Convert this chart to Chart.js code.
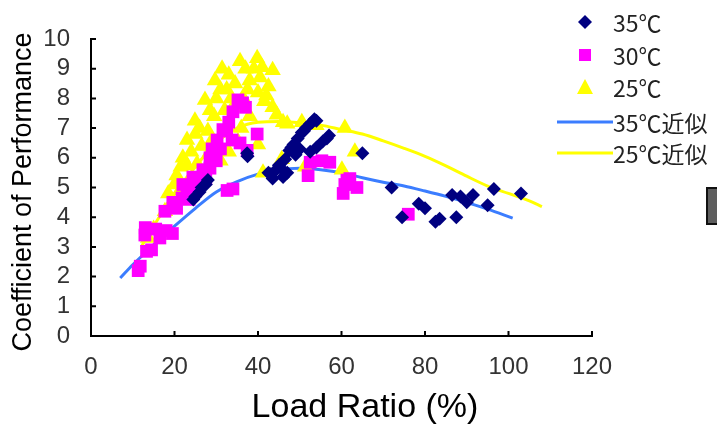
<!DOCTYPE html>
<html>
<head>
<meta charset="utf-8">
<script src="https://cdn.jsdelivr.net/npm/chart.js@4"></script>
<style>
  html, body { margin: 0; padding: 0; background: #fff; }
</style>
</head>
<body>
<canvas id="myChart" width="717" height="432"></canvas>
<script>
const t35X = [24.5, 25, 26, 26.5, 27.5, 28, 37.5, 37.4, 42.5, 43, 43.5, 44, 45, 45.5, 46, 46.5, 47, 47.5, 48, 48.5, 49.5, 50.5, 51, 51.5, 52.5, 53, 53.5, 54, 52.5, 54, 55.5, 56.5, 57, 49, 50, 65, 72, 74.5, 78.5, 80, 82.5, 83.5, 86.5, 87.5, 88.5, 90, 91.5, 95, 96.5, 103];
const t35Y = [4.6, 4.7, 4.85, 5.0, 5.1, 5.25, 6.05, 6.15, 5.5, 5.45, 5.3, 5.55, 5.75, 5.65, 5.35, 5.95, 5.5, 6.25, 6.35, 6.45, 6.65, 6.85, 6.9, 7.0, 7.15, 7.2, 7.3, 7.25, 6.2, 6.35, 6.55, 6.65, 6.75, 6.1, 6.3, 6.15, 5.0, 4.0, 4.45, 4.3, 3.85, 3.95, 4.75, 4.0, 4.7, 4.5, 4.75, 4.4, 4.95, 4.8];

const t30X = [11.3, 11.8, 13.3, 14.5, 12.9, 13, 15.5, 18, 19.5, 16.5, 17.7, 19.6, 20.5, 21.8, 23, 23.5, 24.9, 24.4, 26.8, 27.5, 28.5, 28.5, 29, 30.2, 31, 31.6, 32.5, 33, 34, 35.2, 36.3, 37, 33.8, 32.6, 34, 35.7, 37.4, 39.8, 22, 26, 30, 52, 52.5, 55.3, 57.2, 60.4, 60.8, 61.3, 62, 63.7, 76];
const t30Y = [2.2, 2.35, 2.85, 2.9, 3.4, 3.65, 3.6, 3.55, 3.45, 3.3, 4.2, 4.5, 4.3, 4.65, 4.85, 4.6, 5.0, 5.35, 5.6, 5.3, 5.65, 6.0, 6.3, 6.6, 6.3, 6.95, 6.9, 7.2, 7.55, 7.95, 7.85, 7.7, 6.6, 4.9, 4.95, 6.5, 6.25, 6.8, 5.1, 5.3, 5.9, 5.4, 5.85, 5.9, 5.85, 4.8, 5.1, 5.25, 5.3, 5.0, 4.1];

const t25X = [13.7, 15, 17.7, 18.5, 19.6, 20, 21.3, 20.5, 21.5, 23, 24, 25, 25.4, 22, 23, 24.9, 26, 27.3, 28.5, 29.7, 31.4, 26.5, 28, 29, 29.5, 30, 31, 32, 32.5, 33, 33.5, 34.5, 35.7, 37, 37.5, 39, 39.8, 40.5, 41, 42, 43.5, 38, 40, 42.5, 41.5, 43.5, 44.5, 46, 47, 50.5, 54, 60.8, 35.2, 40, 41.2, 45.7, 51.3, 60.1, 63.2, 36, 38, 31, 33, 27, 28.5, 34, 36.5];
const t25Y = [3.3, 3.6, 4.2, 4.8, 4.55, 5.1, 4.9, 5.4, 5.7, 5.75, 6.2, 6.8, 5.8, 6.0, 6.6, 7.25, 7.0, 7.95, 7.6, 8.6, 9.0, 6.4, 6.9, 6.6, 7.4, 8.0, 8.3, 7.6, 8.3, 8.8, 8.0, 8.5, 9.25, 9.0, 8.3, 9.0, 9.35, 8.7, 9.05, 8.1, 8.95, 8.6, 8.2, 8.4, 7.9, 7.7, 7.45, 7.2, 7.15, 7.2, 7.1, 7.0, 6.55, 6.45, 5.5, 5.95, 5.7, 5.6, 6.2, 7.0, 7.4, 5.9, 6.2, 5.3, 6.2, 7.7, 8.0];

// fitted curves as drawn in the picture
const fit35X = [7, 10, 13, 16, 20, 25, 30, 35, 40, 45, 50, 55, 60, 65, 70, 75, 80, 85, 90, 95, 101];
const fit35Y = [1.95, 2.4, 2.8, 3.2, 3.7, 4.3, 4.85, 5.2, 5.45, 5.6, 5.65, 5.6, 5.5, 5.33, 5.18, 5.05, 4.88, 4.7, 4.5, 4.27, 3.97];
const fit25X = [12, 15, 20, 25, 30, 35, 40, 45, 50, 55, 60, 65, 70, 75, 80, 85, 90, 95, 100, 105, 108];
const fit25Y = [3.0, 3.7, 4.8, 5.7, 6.5, 7.0, 7.2, 7.22, 7.18, 7.1, 6.95, 6.8, 6.57, 6.32, 6.05, 5.73, 5.38, 5.05, 4.8, 4.55, 4.36];

const seriesNames = ['35℃', '30℃', '25℃', '35℃近似', '25℃近似'];
const xTicks = [0, 20, 40, 60, 80, 100, 120];
const yTicks = [0, 1, 2, 3, 4, 5, 6, 7, 8, 9, 10];

const NAVY = '#000080';
const PINK = '#ff00ff';
const YELLOW = '#ffff00';
const BLUE = '#3b7dff';

function pts(xs, ys) {
  return xs.map((x, i) => ({ x: x, y: ys[i] }));
}

// inward ticks, axis titles, legend and the stray box at the right edge
const extras = {
  id: 'extras',
  afterDraw(chart) {
    const ctx = chart.ctx;
    const xs = chart.scales.x, ys = chart.scales.y;
    const a = chart.chartArea;
    ctx.save();
    ctx.strokeStyle = '#000';
    ctx.lineWidth = 2;
    ctx.beginPath();
    xTicks.forEach(v => {
      const px = xs.getPixelForValue(v);
      ctx.moveTo(px, a.bottom);
      ctx.lineTo(px, a.bottom - 5);
    });
    yTicks.forEach(v => {
      const py = ys.getPixelForValue(v);
      ctx.moveTo(a.left, py);
      ctx.lineTo(a.left + 5, py);
    });
    ctx.stroke();

    // axis titles
    ctx.fillStyle = '#000';
    ctx.textAlign = 'center';
    ctx.textBaseline = 'middle';
    ctx.font = '34px "Liberation Sans", Arial, sans-serif';
    ctx.fillText('Load Ratio (%)', 365, 408);
    ctx.save();
    ctx.translate(24, 192);
    ctx.rotate(-Math.PI / 2);
    ctx.font = '27px "Liberation Sans", Arial, sans-serif';
    ctx.fillText('Coefficient of Performance', 0, 0);
    ctx.restore();

    // legend
    const lx = 585, tx = 613;
    const rows = [22, 55, 87, 122, 153];
    ctx.fillStyle = NAVY;
    ctx.beginPath();
    ctx.moveTo(lx, rows[0] - 7); ctx.lineTo(lx + 7, rows[0]);
    ctx.lineTo(lx, rows[0] + 7); ctx.lineTo(lx - 7, rows[0]);
    ctx.closePath(); ctx.fill();
    ctx.fillStyle = PINK;
    ctx.fillRect(lx - 6, rows[1] - 6, 12, 12);
    ctx.fillStyle = YELLOW;
    ctx.beginPath();
    ctx.moveTo(lx, rows[2] - 8); ctx.lineTo(lx + 8, rows[2] + 7); ctx.lineTo(lx - 8, rows[2] + 7);
    ctx.closePath(); ctx.fill();
    ctx.lineWidth = 3;
    ctx.strokeStyle = BLUE;
    ctx.beginPath(); ctx.moveTo(557, rows[3]); ctx.lineTo(613, rows[3]); ctx.stroke();
    ctx.strokeStyle = YELLOW;
    ctx.beginPath(); ctx.moveTo(557, rows[4]); ctx.lineTo(613, rows[4]); ctx.stroke();

    ctx.fillStyle = '#222';
    ctx.textAlign = 'left';
    ctx.font = '23px "Noto Sans CJK JP", sans-serif';
    seriesNames.forEach((s, i) => ctx.fillText(s, tx, rows[i] + 1));

    // partial grey box cut by the right edge
    ctx.fillStyle = '#5e5e5e';
    ctx.fillRect(707, 188, 12, 36);
    ctx.strokeStyle = '#111';
    ctx.lineWidth = 2;
    ctx.strokeRect(707, 188, 12, 36);
    ctx.restore();
  }
};

const data = {
  datasets: [
    { label: seriesNames[0], data: pts(t35X, t35Y), pointStyle: 'rectRot', pointRadius: 7,
      backgroundColor: NAVY, borderColor: NAVY, borderWidth: 0, showLine: false },
    { label: seriesNames[1], data: pts(t30X, t30Y), pointStyle: 'rect', pointRadius: 9,
      backgroundColor: PINK, borderColor: PINK, borderWidth: 0, showLine: false },
    { label: seriesNames[2], data: pts(t25X, t25Y), pointStyle: 'triangle', pointRadius: 9.5,
      backgroundColor: YELLOW, borderColor: YELLOW, borderWidth: 0, showLine: false },
    { label: seriesNames[3], data: pts(fit35X, fit35Y), showLine: true, pointRadius: 0,
      borderColor: BLUE, borderWidth: 3, cubicInterpolationMode: 'monotone' },
    { label: seriesNames[4], data: pts(fit25X, fit25Y), showLine: true, pointRadius: 0,
      borderColor: YELLOW, borderWidth: 3, cubicInterpolationMode: 'monotone' }
  ]
};

const tickFont = { family: '"Liberation Sans Narrow", "Liberation Sans", Arial, sans-serif', size: 24 };

const config = {
  type: 'scatter',
  data: data,
  options: {
    responsive: false,
    animation: false,
    layout: { padding: { left: 0, right: 125, top: 39, bottom: 0 } },
    plugins: {
      legend: { display: false },
      tooltip: { enabled: false }
    },
    scales: {
      x: {
        type: 'linear', min: 0, max: 120,
        afterFit: s => { s.height = 96; },
        afterBuildTicks: s => { s.ticks = xTicks.map(v => ({ value: v })); },
        grid: { display: true, drawOnChartArea: false, drawTicks: false },
        border: { color: '#000', width: 2 },
        ticks: { color: '#333', font: tickFont, padding: 17, maxRotation: 0, autoSkip: false }
      },
      y: {
        type: 'linear', min: 0, max: 10,
        afterFit: s => { s.width = 91; },
        afterBuildTicks: s => { s.ticks = yTicks.map(v => ({ value: v })); },
        grid: { display: true, drawOnChartArea: false, drawTicks: false },
        border: { color: '#000', width: 2 },
        ticks: { color: '#333', font: tickFont, padding: 21, autoSkip: false }
      }
    }
  },
  plugins: [extras]
};

var myChart = new Chart(document.getElementById('myChart'), config);
</script>
</body>
</html>
